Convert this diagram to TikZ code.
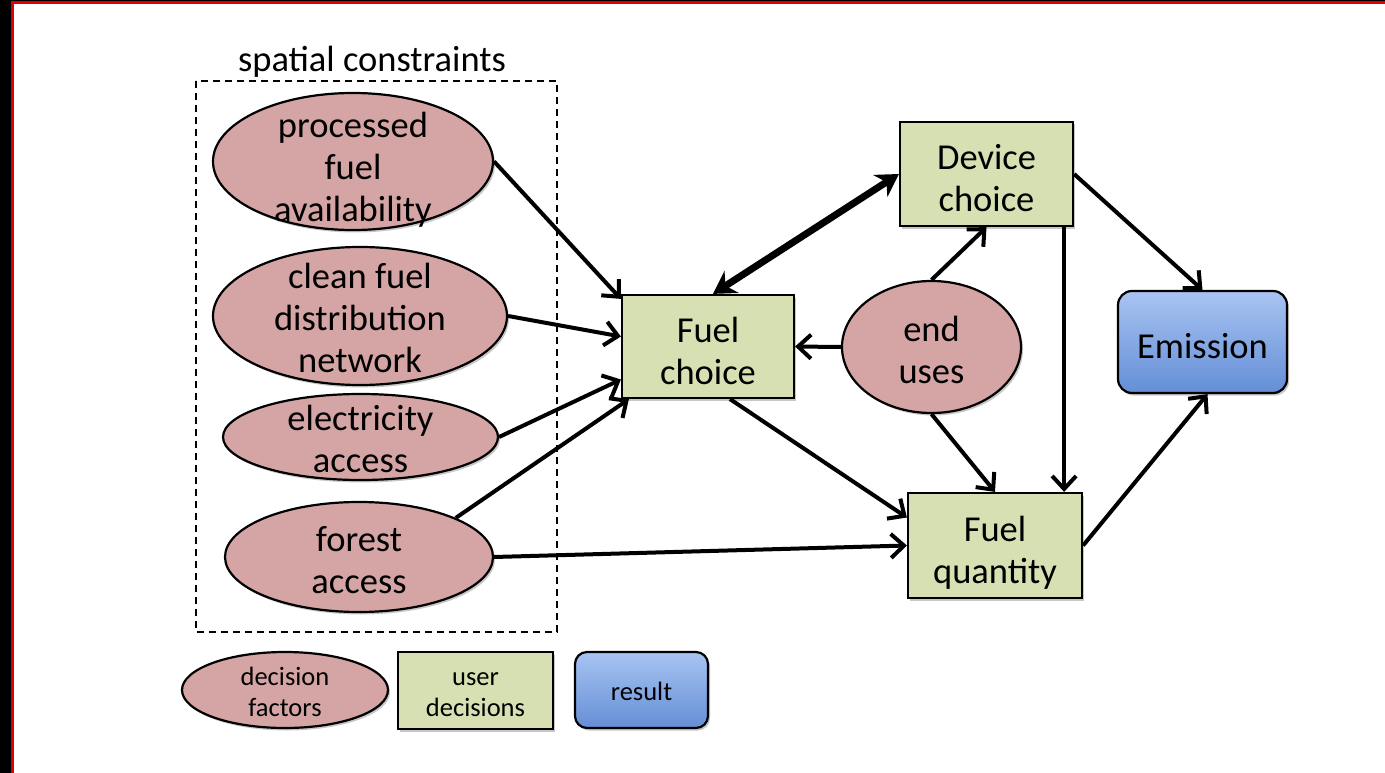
\documentclass[tikz,border=0pt]{standalone}
\usepackage{fontspec}
\setmainfont{Carlito}
\usetikzlibrary{shapes.geometric,arrows.meta,shadows}

\definecolor{factorfill}{RGB}{213,165,165}
\definecolor{decisionfill}{RGB}{215,224,178}
\definecolor{resulttop}{RGB}{168,196,242}
\definecolor{resultbot}{RGB}{100,142,214}
\definecolor{framered}{RGB}{220,0,0}

% invisible struts that fix where the text sits inside the boxes
\newcommand\bigtop{\rule{0pt}{42pt}}
\newcommand\bigbot{\rule[-9pt]{0pt}{9pt}}
\newcommand\smalltop{\rule{0pt}{27pt}}
\newcommand\smallbot{\rule[-7pt]{0pt}{7pt}}

\tikzset{
  softshadow/.style={drop shadow={opacity=0.22,shadow xshift=2pt,shadow yshift=-2.5pt,fill=black}},
  factor/.style={ellipse,draw=black,line width=2.2pt,fill=factorfill,inner sep=0pt,softshadow},
  decision/.style={rectangle,draw=black,line width=2.2pt,fill=decisionfill,inner sep=0pt,softshadow,
    align=center,font=\fontsize{36.5}{42}\selectfont},
  result/.style={rectangle,rounded corners=14pt,draw=black,line width=2.2pt,
    top color=resulttop,bottom color=resultbot,inner sep=0pt,softshadow,align=center},
  bigtext/.style={align=center,inner sep=0pt,font=\fontsize{36.5}{42}\selectfont},
  smalltext/.style={align=center,inner sep=0pt,font=\fontsize{26.5}{31}\selectfont},
  link/.style={line width=4pt,-{Straight Barb[length=13pt,width=24pt,line width=4pt]}},
  twoway/.style={line width=7pt,{Stealth[length=22pt,width=26pt]}-{Stealth[length=22pt,width=26pt]}},
}

\begin{document}
\begin{tikzpicture}[x=1pt,y=-1pt]
  % page and frame
  \useasboundingbox (0,0) rectangle (1385,773);
  \fill[white] (0,0) rectangle (1385,773);
  \fill[black] (0,0) rectangle (11,773);
  \fill[black] (11,0) rectangle (1385,1);
  \draw[framered,line width=2.6pt] (12.3,773) -- (12.3,2.3) -- (1385,2.3);

  % group of spatial constraints
  \draw[line width=1.8pt,dash pattern=on 7pt off 5pt] (196,81) rectangle (557,632);
  \node[bigtext] (sclabel) at (372,62) {spatial constraints};

  % decision factors
  \node[factor,minimum width=280pt,minimum height=137pt] (pfa) at (353,161.5) {};
  \node[bigtext] (pfatext) at (353,170) {processed\\fuel\\availability};

  \node[factor,minimum width=294pt,minimum height=138pt] (cfd) at (360,316) {};
  \node[bigtext] (cfdtext) at (360,318) {clean fuel\\distribution\\network};

  \node[factor,minimum width=275pt,minimum height=86pt] (ea) at (360.5,437) {};
  \node[bigtext] (eatext) at (360.5,439) {electricity\\access};

  \node[factor,minimum width=268pt,minimum height=110pt] (fa) at (359,557) {};
  \node[bigtext] (fatext) at (359,560) {forest\\access};

  \node[factor,minimum width=179pt,minimum height=132pt] (eu) at (931.5,347) {};
  \node[bigtext] (eutext) at (931.5,350) {end\\uses};

  % user decisions and result
  \node[decision,minimum width=172pt,minimum height=103pt] (fc) at (708,346.5) {\bigtop Fuel\\choice\bigbot};
  \node[decision,minimum width=173pt,minimum height=104pt] (dc) at (986.5,174) {\bigtop Device\\choice\bigbot};
  \node[decision,minimum width=174pt,minimum height=105pt] (fq) at (995,545.5) {\bigtop Fuel\\quantity\bigbot};
  \node[result,minimum width=169pt,minimum height=102pt,font=\fontsize{36.5}{42}\selectfont] (em) at (1202.5,342) {\bigtop Emission\bigbot};

  % connectors
  \draw[link] (pfa.east) -- ([yshift=-5pt]fc.north west);
  \draw[link] (cfd.east) -- ([yshift=10pt]fc.west);
  \draw[link] (ea.east) -- ([yshift=-33pt]fc.west);
  \draw[link] (fa.22) -- ([xshift=8pt]fc.south west);
  \draw[link] (fa.east) -- (fq.west);
  \draw[twoway] ([xshift=5pt]fc.north) -- (dc.west);
  \draw[link] (eu.north) -- (dc.south);
  \draw[link] (eu.west) -- (fc.east);
  \draw[link] (eu.south) -- (fq.north);
  \draw[link] ([xshift=22pt]fc.south) -- ([yshift=28pt]fq.west);
  \draw[link] ([xshift=-10pt]dc.south east) -- ([xshift=-19pt]fq.north east);
  \draw[link] (dc.east) -- (em.north);
  \draw[link] (fq.east) -- ([xshift=5pt]em.south);

  % legend
  \node[factor,minimum width=206pt,minimum height=76pt] (lgf) at (285,690) {};
  \node[smalltext] (lgftext) at (285,692) {decision\\factors};
  \node[decision,minimum width=155pt,minimum height=77pt,font=\fontsize{26.5}{31}\selectfont] (lgd) at (475.5,690.5) {\smalltop user\\decisions\smallbot};
  \node[result,minimum width=133pt,minimum height=76pt,rounded corners=12pt,font=\fontsize{26.5}{31}\selectfont] (lgr) at (641.5,690) {\smalltop result\smallbot};
\end{tikzpicture}
\end{document}
